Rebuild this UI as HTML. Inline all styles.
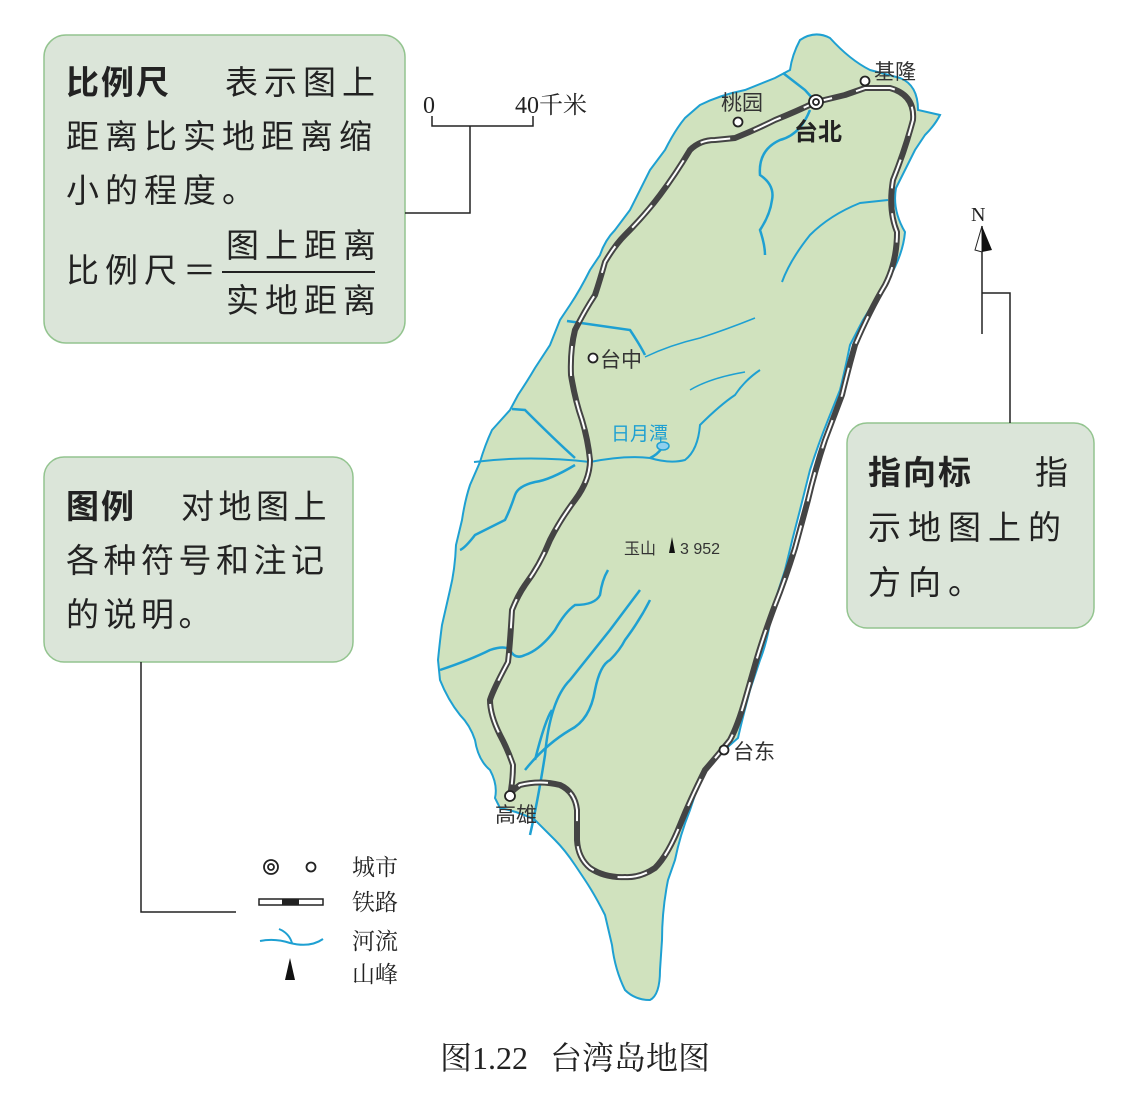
<!DOCTYPE html>
<html><head><meta charset="utf-8"><style>
body{margin:0;background:#fff;}
svg{display:block;}
</style></head><body>
<svg width="1144" height="1096" viewBox="0 0 1144 1096" xmlns="http://www.w3.org/2000/svg" font-family="'Liberation Serif','Noto Serif CJK SC','Noto Sans CJK SC',serif">
<!-- island -->
<path d="M800,40 Q815,30 830,38 Q850,60 870,70 L900,78 Q918,85 918,110 L940,115 Q935,125 925,135 L915,150 Q905,170 896,188 Q892,210 905,232 Q903,255 888,280 Q875,300 863,320 L850,345 Q845,370 840,390 L828,420 Q818,445 810,470 L800,510 Q792,540 785,570 L772,610 Q768,640 760,660 L750,690 Q742,720 738,738 L722,752 Q708,765 700,780 L690,810 Q680,835 675,860 L668,880 Q662,910 662,940 L660,970 Q660,995 650,1000 Q635,1000 625,990 Q615,970 612,945 L605,915 Q595,895 585,880 L575,865 Q565,850 555,840 L535,820 Q520,812 500,808 L495,798 Q498,785 490,770 Q478,760 475,740 Q470,725 460,715 Q448,700 440,680 L438,660 Q440,640 442,625 L450,590 Q455,570 456,545 L462,520 Q465,500 470,485 L480,462 Q485,445 492,430 L510,410 L518,395 Q528,380 535,368 L550,345 Q556,330 560,320 L570,305 Q580,290 590,270 L600,255 Q605,240 615,230 L630,210 Q640,190 650,170 L665,150 Q675,130 685,118 L700,105 Q720,95 745,90 L775,78 L790,70 Q792,55 800,40Z" fill="#d0e2be" stroke="#1ea0d2" stroke-width="2"/>
<!-- rivers -->
<g fill="none" stroke="#1ea0d2" stroke-width="2.5">
<path d="M783,73 L805,90 L814,100"/>
<path d="M810,110 Q800,135 780,140 Q758,150 760,175 Q775,185 772,200 Q770,215 760,230 Q765,245 765,255"/>
<path d="M888,200 L860,203 Q830,215 810,235 Q790,260 782,282" stroke-width="2"/>
<path d="M567,321 L630,330 Q640,345 645,355" />
<path d="M645,357 Q670,345 700,338 Q725,330 755,318" stroke-width="1.5"/>
<path d="M690,390 Q710,378 745,372" stroke-width="1.5"/>
<path d="M512,409 L525,410 Q555,440 575,458"/>
<path d="M474,462 Q530,455 590,462 Q625,455 650,458 Q670,464 685,460 Q698,450 700,425 Q720,405 735,395 Q745,380 760,370" stroke-width="2"/>
<path d="M662,448 Q657,455 650,458"/>
<path d="M575,465 Q550,480 535,482 Q518,486 515,495 Q510,510 505,520 Q495,525 475,535 Q465,548 460,550"/>
<path d="M440,670 Q470,660 490,650 Q505,645 510,650 Q515,660 525,655 Q540,650 555,630 Q565,612 575,605 Q595,605 600,595 Q602,580 608,570"/>
<path d="M525,770 Q545,745 570,730 Q590,720 595,690 Q600,665 610,660 Q620,650 625,640 Q640,620 650,600"/>
<path d="M530,835 Q538,800 545,755 Q550,700 570,680 Q590,655 610,630 Q625,610 640,590"/>
<path d="M535,760 Q545,720 552,710"/>
</g>
<ellipse cx="663" cy="446" rx="6" ry="4" fill="#8fd0ee" stroke="#1ea0d2" stroke-width="1.5"/>
<!-- railway -->
<path d="M865,88 L890,88 Q915,95 913,120 Q905,150 893,180 Q888,210 897,232 Q897,262 885,285 Q870,310 855,345 Q848,370 842,395 L825,440 Q815,470 808,500 L795,548 Q785,580 775,605 Q762,640 755,665 L745,700 Q738,725 730,740 Q718,755 705,770 Q690,800 680,825 Q668,855 655,868 Q640,878 625,877 Q605,878 590,868 Q578,858 577,840 L577,810 Q575,792 560,785 Q540,780 520,785 Q510,792 510,796 Q513,780 513,765 Q508,750 500,735 Q490,715 490,700 Q493,690 508,662 Q510,645 512,610 Q518,595 525,585 Q540,565 550,540 Q560,520 575,500 Q590,480 590,460 Q588,440 582,420 Q575,400 571,375 Q570,350 575,330 Q585,310 595,295 Q600,280 605,262 Q615,245 625,235 Q645,215 660,195 Q675,175 690,150 Q700,140 715,140 L735,138 Q755,130 775,120 Q795,112 816,102 L845,95 Z" fill="none" stroke="#444" stroke-width="6" stroke-linejoin="round"/>
<path d="M865,88 L890,88 Q915,95 913,120 Q905,150 893,180 Q888,210 897,232 Q897,262 885,285 Q870,310 855,345 Q848,370 842,395 L825,440 Q815,470 808,500 L795,548 Q785,580 775,605 Q762,640 755,665 L745,700 Q738,725 730,740 Q718,755 705,770 Q690,800 680,825 Q668,855 655,868 Q640,878 625,877 Q605,878 590,868 Q578,858 577,840 L577,810 Q575,792 560,785 Q540,780 520,785 Q510,792 510,796 Q513,780 513,765 Q508,750 500,735 Q490,715 490,700 Q493,690 508,662 Q510,645 512,610 Q518,595 525,585 Q540,565 550,540 Q560,520 575,500 Q590,480 590,460 Q588,440 582,420 Q575,400 571,375 Q570,350 575,330 Q585,310 595,295 Q600,280 605,262 Q615,245 625,235 Q645,215 660,195 Q675,175 690,150 Q700,140 715,140 L735,138 Q755,130 775,120 Q795,112 816,102 L845,95 Z" fill="none" stroke="#fff" stroke-width="2" stroke-dasharray="30,25"/>
<!-- cities -->
<g fill="#fff" stroke="#222" stroke-width="1.8">
<circle cx="816" cy="102" r="7"/><circle cx="816" cy="102" r="3"/>
<circle cx="865" cy="81" r="4.5"/><circle cx="738" cy="122" r="4.5"/>
<circle cx="593" cy="358" r="4.5"/><circle cx="724" cy="750" r="4.5"/><circle cx="510" cy="796" r="5"/>
</g>
<g font-family="'Liberation Sans','Noto Sans CJK SC',sans-serif" fill="#333" font-size="21">
<text x="874" y="79">基隆</text><text x="721" y="110">桃园</text>
<text x="794" y="140" font-weight="bold" font-size="24" fill="#222">台北</text>
<text x="600" y="367">台中</text><text x="733" y="759">台东</text><text x="495" y="822">高雄</text>
<text x="611" y="440" fill="#1ea0d2" font-size="19">日月潭</text>
<text x="624" y="554" font-size="16">玉山</text><text x="680" y="554" font-size="16">3 952</text>
</g>
<polygon points="669,553 672,537 675,553" fill="#111"/>
<!-- boxes -->
<g fill="#dbe5d9" stroke="#93c48f" stroke-width="1.5">
<rect x="44" y="35" width="361" height="308" rx="22"/>
<rect x="44" y="457" width="309" height="205" rx="20"/>
<rect x="847" y="423" width="247" height="205" rx="20"/>
</g>
<g font-family="'Liberation Sans','Noto Sans CJK SC',sans-serif" fill="#222" font-size="33">
<g letter-spacing="6">
<text x="66" y="94"><tspan font-weight="bold" letter-spacing="2">比例尺</tspan></text>
<text x="225" y="94">表示图上</text>
<text x="66" y="148">距离比实地距离缩</text>
<text x="66" y="202">小的程度。</text>
<text x="66" y="282">比例尺＝</text>
<text x="226" y="257">图上距离</text>
<text x="226" y="312">实地距离</text>
</g>
<g letter-spacing="4.5">
<text x="66" y="518"><tspan font-weight="bold" letter-spacing="2">图例</tspan></text>
<text x="181" y="518">对地图上</text>
<text x="66" y="572">各种符号和注记</text>
<text x="66" y="626">的说明。</text>
</g>
<g letter-spacing="7">
<text x="868" y="484"><tspan font-weight="bold" letter-spacing="2">指向标</tspan></text>
<text x="1035" y="484">指</text>
<text x="868" y="539">示地图上的</text>
<text x="868" y="594">方向。</text>
</g>
</g>
<line x1="222" y1="272" x2="375" y2="272" stroke="#222" stroke-width="2"/>
<!-- scale -->
<g stroke="#222" stroke-width="1.5" fill="none">
<polyline points="432,116 432,126 533,126 533,116"/>
<polyline points="470,126 470,213 405,213"/>
<line x1="982" y1="226" x2="982" y2="334"/>
<polyline points="982,293 1010,293 1010,423"/>
<polyline points="141,662 141,912 236,912"/>
</g>
<polygon points="982,226 982,252 975,250" fill="#fff" stroke="#222" stroke-width="1"/>
<polygon points="982,226 982,252 992,250" fill="#111"/>
<g fill="#222" font-size="24">
<text x="423" y="113">0</text><text x="515" y="113">40千米</text>
<text x="971" y="221" font-size="20">N</text>
</g>
<!-- legend -->
<g fill="#fff" stroke="#222" stroke-width="1.8">
<circle cx="271" cy="867" r="7"/><circle cx="271" cy="867" r="3"/><circle cx="311" cy="867" r="4.5"/>
</g>
<rect x="259" y="899" width="64" height="6" fill="#fff" stroke="#222" stroke-width="1.5"/>
<rect x="282" y="899" width="17" height="6" fill="#222"/>
<path d="M260,941 Q275,938 290,943 Q310,948 323,939 M279,929 Q289,933 292,943" fill="none" stroke="#1ea0d2" stroke-width="2"/>
<polygon points="285,980 290,958 295,980" fill="#111"/>
<g fill="#222" font-size="23">
<text x="352" y="875">城市</text><text x="352" y="910">铁路</text>
<text x="352" y="949">河流</text><text x="352" y="982">山峰</text>
</g>
<text x="440" y="1069" fill="#222" font-size="32"><tspan>图1.22</tspan><tspan x="550">台湾岛地图</tspan></text>
</svg>
</body></html>
